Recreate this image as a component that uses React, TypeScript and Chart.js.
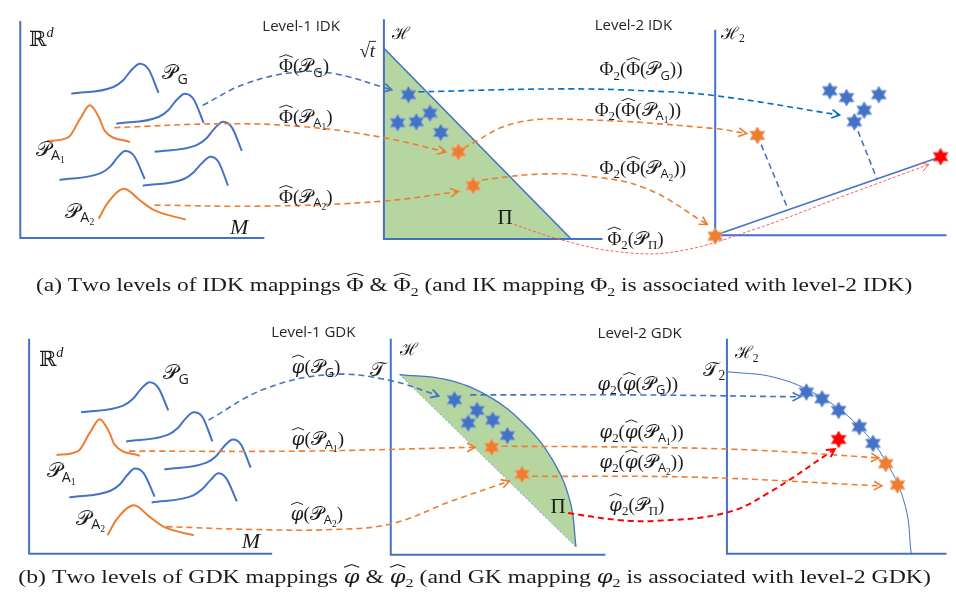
import { useEffect, useRef } from 'react';
import { Chart, registerables } from 'chart.js';
Chart.register(...registerables);

type P = [number, number];

// ---------------- panel (a): IDK ----------------
const rdAxisA: P[] = [[11, 12], [11, 236], [260, 236]];
const hAxisA: P[] = [[382, 10], [382, 237], [605, 237]];
const h2AxisA: P[] = [[720, 21], [720, 233], [956, 233]];
const simplexEdgeA: P[] = [[382, 40], [573, 237]];
const simplexBaseA = 237;
const projLineA: P[] = [[720, 233], [950, 152]];

const pdfA_G: P[] = [[63, 87], [106, 80], [116, 73], [124, 63], [133, 56], [142, 62], [152, 86]];
const pdfA_2: P[] = [[109, 118], [152, 111], [162, 104], [170, 94], [179, 87], [188, 93], [198, 117]];
const pdfA_3: P[] = [[148, 147], [191, 140], [201, 133], [209, 123], [218, 116], [227, 122], [237, 146]];
const pdfA_4: P[] = [[51, 176], [93, 169], [103, 162], [110, 153], [118, 146], [127, 151], [138, 175]];
const pdfA_5: P[] = [[136, 182], [178, 175], [188, 168], [196, 159], [205, 152], [213, 157], [223, 182]];
const pdfA_A1: P[] = [[38, 136], [60, 132], [72, 113], [82, 99], [92, 113], [97, 125], [123, 137]];
const pdfA_A2: P[] = [[91, 216], [100, 200], [117, 185], [133, 197], [147, 207], [180, 217]];

const mapA_G1: P[] = [[197, 99], [240, 77], [290, 65], [330, 66], [390, 83]];
const mapA_A1a: P[] = [[107, 122], [218, 118], [300, 121], [380, 132], [445, 147]];
const mapA_A2a: P[] = [[148, 202], [260, 203], [380, 198], [458, 188]];
const mapA_G2: P[] = [[417, 85], [560, 82], [650, 84], [720, 89], [847, 109]];
const mapA_A1b: P[] = [[463, 143], [517, 117], [590, 114], [720, 123], [752, 128]];
const mapA_A2b: P[] = [[482, 176], [540, 170], [590, 172], [650, 185], [712, 222]];
const mapA_Pi: P[] = [[515, 222], [560, 237], [620, 250], [680, 250], [760, 227], [850, 193], [938, 160]];
const projA_1: P[] = [[862, 116], [885, 175]];
const projA_2: P[] = [[763, 130], [793, 203]];

const starsBlueA1: P[] = [[407, 88], [396, 117], [415, 116], [429, 107], [440, 127]];
const starsOrangeA1: P[] = [[458, 147], [473, 182]];
const starsBlueA2: P[] = [[837, 84], [854, 91], [887, 88], [872, 104], [862, 116]];
const starsOrangeA2: P[] = [[763, 130], [720, 234]];
const starRedA2: P[] = [[950, 152]];

// ---------------- panel (b): GDK ----------------
const rdAxisB: P[] = [[20, 340], [20, 562], [268, 562]];
const hAxisB: P[] = [[389, 340], [389, 563], [608, 563]];
const h2AxisB: P[] = [[732, 340], [732, 562], [956, 562]];
const lensArcB: P[] = [[398, 377], [445, 382], [488, 399], [525, 428], [554, 465], [572, 508], [578, 555]];
const lensChordB: P[] = [[398, 377], [488, 466], [578, 555]];
const sphereArcB: P[] = [[732, 374], [781, 380], [826, 399], [865, 429], [895, 468], [914, 513], [920, 562]];

const pdfB_G: P[] = [[73, 416], [116, 409], [126, 402], [134, 392], [143, 385], [152, 391], [162, 414]];
const pdfB_2: P[] = [[119, 446], [162, 439], [172, 432], [180, 422], [188, 416], [197, 421], [207, 446]];
const pdfB_3: P[] = [[158, 475], [201, 468], [211, 461], [219, 451], [228, 444], [236, 449], [246, 473]];
const pdfB_4: P[] = [[61, 504], [103, 497], [113, 490], [120, 481], [128, 474], [137, 479], [148, 503]];
const pdfB_5: P[] = [[145, 509], [187, 502], [197, 495], [205, 486], [213, 479], [221, 484], [232, 508]];
const pdfB_A1: P[] = [[48, 460], [70, 456], [82, 437], [92, 423], [102, 437], [107, 449], [133, 461]];
const pdfB_A2: P[] = [[100, 543], [109, 527], [127, 512], [143, 524], [157, 534], [188, 543]];

const mapB_G1: P[] = [[203, 424], [260, 392], [327, 377], [388, 383], [438, 399]];
const mapB_A1a: P[] = [[122, 456], [300, 456], [475, 452]];
const mapB_A2a: P[] = [[160, 534], [250, 537], [330, 537], [390, 531], [450, 508], [510, 487]];
const mapB_G2: P[] = [[470, 398], [640, 398], [807, 400]];
const mapB_A1b: P[] = [[502, 451], [640, 452], [760, 455], [887, 463]];
const mapB_A2b: P[] = [[533, 482], [700, 483], [890, 492]];
const mapB_Pi: P[] = [[570, 520], [620, 527], [660, 528], [730, 520], [773, 500], [842, 454]];

const starsBlueB1: P[] = [[454, 403], [477, 414], [468, 427], [493, 424], [508, 440]];
const starsOrangeB1: P[] = [[492, 452], [523, 480]];
const starsBlueB2: P[] = [[813, 395], [829, 402], [846, 414], [867, 431], [881, 448]];
const starsOrangeB2: P[] = [[894, 469], [906, 491]];
const starRedB2: P[] = [[846, 444]];

// ---------------- text ----------------
const mathLabels = [
  'ℝ^{\\i{d}}', '𝒫_{\\s{G}}', '𝒫_{\\s{A}_{1}}', '𝒫_{\\s{A}_{2}}', '\\i{M}',
  '\\h{Φ}(𝒫_{\\s{G}})', '\\h{Φ}(𝒫_{\\s{A}_{1}})', '\\h{Φ}(𝒫_{\\s{A}_{2}})',
  'ℋ', '√\\o{\\i{t}}', 'Π',
  'Φ_{2}(\\h{Φ}(𝒫_{\\s{G}}))', 'Φ_{2}(\\h{Φ}(𝒫_{\\s{A}_{1}}))', 'Φ_{2}(\\h{Φ}(𝒫_{\\s{A}_{2}}))',
  '\\h{Φ}_{2}(𝒫_{Π})', 'ℋ_{2}',
  'ℝ^{\\i{d}}', '𝒫_{\\s{G}}', '𝒫_{\\s{A}_{1}}', '𝒫_{\\s{A}_{2}}', '\\i{M}',
  '\\h{\\g{φ}}(𝒫_{\\s{G}})', '\\h{\\g{φ}}(𝒫_{\\s{A}_{1}})', '\\h{\\g{φ}}(𝒫_{\\s{A}_{2}})',
  'ℋ', '𝒯', 'Π',
  '\\g{φ}_{2}(\\h{\\g{φ}}(𝒫_{\\s{G}}))', '\\g{φ}_{2}(\\h{\\g{φ}}(𝒫_{\\s{A}_{1}}))', '\\g{φ}_{2}(\\h{\\g{φ}}(𝒫_{\\s{A}_{2}}))',
  '\\h{\\g{φ}}_{2}(𝒫_{Π})', '𝒯_{2}', 'ℋ_{2}',
];
const mathLabelX = [
  20, 156, 27, 57, 225,
  275, 275, 275,
  390, 357, 498,
  602, 597, 602,
  610, 726,
  30, 157, 38, 68, 237,
  288, 288, 287,
  398, 368, 552,
  600, 602, 602,
  612, 708, 740,
];
const mathLabelY = [
  38, 72, 151, 215, 232,
  65, 117, 200,
  30, 49, 222,
  68, 110, 170,
  243, 30,
  368, 382, 483, 532, 556,
  375, 450, 527,
  357, 378, 520,
  393, 442, 473,
  518, 378, 360,
];
const mathLabelSize = [
  21, 21, 21, 21, 22,
  19, 19, 19,
  17, 19, 21,
  19, 19, 19,
  19, 17,
  21, 21, 21, 21, 22,
  19, 19, 19,
  17, 20, 21,
  19, 19, 19,
  19, 20, 17,
];

const levelLabels = ['Level-1 IDK', 'Level-2 IDK', 'Level-1 GDK', 'Level-2 GDK'];
const levelX = [258, 597, 267, 600];
const levelY = [22, 21, 338, 339];

const captions = [
  '(a) Two levels of IDK mappings \\h{Φ} & \\h{Φ}_{2} (and IK mapping Φ_{2} is associated with level-2 IDK)',
  '(b) Two levels of GDK mappings \\h{\\g{φ}} & \\h{\\g{φ}}_{2} (and GK mapping \\g{φ}_{2} is associated with level-2 GDK)',
];
const captionLeft = [27, 9];
const captionRight = [921, 940];
const captionBaseline = [291, 592];

// ---------------- styles ----------------
const BLUE = '#4472C4';
const BLUE2 = '#0070C0';
const ORANGE = '#ED7D31';
const RED = '#FF0000';
const GREEN = 'rgb(181,214,160)';
const INK = '#1b1b1b';
const SERIF = '"Liberation Serif","DejaVu Serif",serif';
const GREEKF = '"DejaVu Serif",serif';
const SANS = '"Open Sans","DejaVu Sans",sans-serif';
const CAPTION_SIZE = 19.5;

function grp(s: string, i: number): [string, number] {
  if (s[i] === '{') {
    let d = 0;
    for (let j = i; j < s.length; j++) {
      if (s[j] === '{') d++;
      else if (s[j] === '}') { d--; if (d === 0) return [s.slice(i + 1, j), j + 1]; }
    }
    return [s.slice(i + 1), s.length];
  }
  const cp = String.fromCodePoint(s.codePointAt(i) as number);
  return [cp, i + cp.length];
}

function rich(ctx: CanvasRenderingContext2D, s: string, x: number, y: number, size: number, fam: string, ital: boolean, draw: boolean): number {
  let cx = x;
  let i = 0;
  while (i < s.length) {
    const c = s[i];
    if (c === '\\') {
      const cmd = s[i + 1];
      const [inner, nx] = grp(s, i + 2);
      i = nx;
      if (cmd === 'h') {
        const w = rich(ctx, inner, cx, y, size, fam, ital, draw);
        if (draw) {
          const top = y - size * 0.93;
          ctx.save();
          ctx.strokeStyle = INK;
          ctx.lineWidth = Math.max(0.8, size * 0.05);
          ctx.beginPath();
          ctx.moveTo(cx + w * 0.02, top + size * 0.13);
          ctx.lineTo(cx + w * 0.5, top);
          ctx.lineTo(cx + w * 0.98, top + size * 0.13);
          ctx.stroke();
          ctx.restore();
        }
        cx += w;
      } else if (cmd === 's') {
        cx += rich(ctx, inner, cx, y, size, SANS, false, draw);
      } else if (cmd === 'g') {
        cx += rich(ctx, inner, cx, y, size * 0.95, GREEKF, true, draw);
      } else if (cmd === 'i') {
        cx += rich(ctx, inner, cx, y, size, fam, true, draw);
      } else if (cmd === 'o') {
        const w = rich(ctx, inner, cx, y, size, fam, ital, draw);
        if (draw) {
          ctx.save();
          ctx.strokeStyle = INK;
          ctx.lineWidth = Math.max(0.8, size * 0.05);
          ctx.beginPath();
          ctx.moveTo(cx - 1, y - size * 0.82);
          ctx.lineTo(cx + w + 1, y - size * 0.82);
          ctx.stroke();
          ctx.restore();
        }
        cx += w;
      }
      continue;
    }
    if (c === '_' || c === '^') {
      const [inner, nx] = grp(s, i + 1);
      i = nx;
      const sz = Math.max(9.5, size * 0.68);
      const dy = c === '_' ? size * 0.22 : -size * 0.42;
      cx += rich(ctx, inner, cx, y + dy, sz, fam, ital, draw);
      continue;
    }
    const ch = String.fromCodePoint(s.codePointAt(i) as number);
    i += ch.length;
    ctx.font = `${ital ? 'italic ' : ''}${size}px ${fam}`;
    if (draw) ctx.fillText(ch, cx, y);
    cx += ctx.measureText(ch).width;
  }
  return cx - x;
}

function makeStar(fill: string, edge: string, r: number): HTMLCanvasElement {
  const c = document.createElement('canvas');
  const n = Math.ceil(r * 2 + 4);
  c.width = n;
  c.height = n;
  const g = c.getContext('2d') as CanvasRenderingContext2D;
  const cx = n / 2, cy = n / 2;
  g.beginPath();
  for (let k = 0; k < 12; k++) {
    const rr = k % 2 === 0 ? r : r / Math.sqrt(3);
    const a = (-90 + k * 30) * Math.PI / 180;
    const px = cx + rr * Math.cos(a), py = cy + rr * Math.sin(a);
    if (k === 0) g.moveTo(px, py); else g.lineTo(px, py);
  }
  g.closePath();
  g.fillStyle = fill;
  g.fill();
  g.strokeStyle = edge;
  g.lineWidth = 1;
  g.stroke();
  return c;
}

const arrowPlugin = {
  id: 'arrowHeads',
  afterDatasetsDraw(chart: any) {
    const ctx = chart.ctx as CanvasRenderingContext2D;
    chart.data.datasets.forEach((ds: any, i: number) => {
      if (!ds.arrow) return;
      const pts = chart.getDatasetMeta(i).data as any[];
      const n = pts.length;
      const end = pts[n - 1];
      let fx = end.cp1x, fy = end.cp1y;
      if (fx === undefined || (Math.abs(fx - end.x) < 0.5 && Math.abs(fy - end.y) < 0.5)) {
        fx = pts[n - 2].x; fy = pts[n - 2].y;
      }
      const ang = Math.atan2(end.y - fy, end.x - fx);
      const L = 9, a = 0.5;
      ctx.save();
      ctx.strokeStyle = ds.borderColor;
      ctx.lineWidth = ds.borderWidth;
      ctx.setLineDash([]);
      ctx.beginPath();
      ctx.moveTo(end.x - L * Math.cos(ang - a), end.y - L * Math.sin(ang - a));
      ctx.lineTo(end.x, end.y);
      ctx.lineTo(end.x - L * Math.cos(ang + a), end.y - L * Math.sin(ang + a));
      ctx.stroke();
      ctx.restore();
    });
  },
};

const textPlugin = {
  id: 'diagramText',
  beforeDraw(chart: any) {
    const ctx = chart.ctx as CanvasRenderingContext2D;
    ctx.save();
    ctx.fillStyle = '#ffffff';
    ctx.fillRect(0, 0, chart.width, chart.height);
    ctx.restore();
  },
  afterDraw(chart: any) {
    const ctx = chart.ctx as CanvasRenderingContext2D;
    const sx = chart.scales.x, sy = chart.scales.y;
    ctx.save();
    ctx.fillStyle = INK;
    ctx.textBaseline = 'alphabetic';
    ctx.textAlign = 'left';
    mathLabels.forEach((t, k) => {
      rich(ctx, t, sx.getPixelForValue(mathLabelX[k]), sy.getPixelForValue(mathLabelY[k]), mathLabelSize[k], SERIF, false, true);
    });
    ctx.fillStyle = '#262626';
    ctx.font = `15px ${SANS}`;
    levelLabels.forEach((t, k) => {
      ctx.fillText(t, sx.getPixelForValue(levelX[k]), sy.getPixelForValue(levelY[k]));
    });
    ctx.fillStyle = INK;
    captions.forEach((t, k) => {
      const x0 = sx.getPixelForValue(captionLeft[k]);
      const x1 = sx.getPixelForValue(captionRight[k]);
      const w0 = rich(ctx, t, 0, 0, CAPTION_SIZE, SERIF, false, false);
      const xs = (x1 - x0) / w0;
      ctx.save();
      ctx.translate(x0, sy.getPixelForValue(captionBaseline[k]));
      ctx.scale(xs, 1);
      rich(ctx, t, 0, 0, CAPTION_SIZE, SERIF, false, true);
      ctx.restore();
    });
    ctx.restore();
  },
};

export default function App() {
  const ref = useRef<HTMLCanvasElement | null>(null);
  useEffect(() => {
    if (!ref.current) return;
    const starBlue = makeStar(BLUE, '#7D9FDB', 8.5);
    const starOrange = makeStar(ORANGE, '#F5A46E', 8.5);
    const starRed = makeStar(RED, '#FF5555', 8.5);

    const datasets: any[] = [];
    const add = (pts: P[], o: any) => {
      datasets.push({
        data: pts.map(([x, y]) => ({ x, y })),
        showLine: true,
        pointRadius: 0,
        pointHoverRadius: 0,
        borderWidth: 1.5,
        borderColor: BLUE,
        backgroundColor: 'transparent',
        fill: false,
        tension: 0,
        clip: false,
        order: 1,
        ...o,
      });
      return datasets.length - 1;
    };
    const curve = (pts: P[], color: string) => add(pts, { borderColor: color, borderWidth: 2, cubicInterpolationMode: 'monotone', order: 2 });
    const dashed = (pts: P[], color: string, arrow: boolean, extra: any = {}) =>
      add(pts, { borderColor: color, borderWidth: 1.6, borderDash: [6, 4], tension: 0.4, arrow, order: 1, ...extra });
    const stars = (pts: P[], img: HTMLCanvasElement) =>
      add(pts, { showLine: false, pointStyle: img, pointRadius: 8, order: -1 });

    // fills
    add(simplexEdgeA, { fill: { value: simplexBaseA }, backgroundColor: GREEN, borderColor: BLUE, borderWidth: 1.6, order: 10 });
    const chordIdx = add(lensChordB, { borderColor: '#7E9CC4', borderWidth: 1, borderDash: [2, 2], order: 9 });
    add(lensArcB, { fill: chordIdx, backgroundColor: GREEN, borderColor: BLUE, borderWidth: 1.3, tension: 0.4, order: 10 });

    // axes
    [rdAxisA, hAxisA, h2AxisA, rdAxisB, hAxisB, h2AxisB].forEach((a) => add(a, { borderWidth: 2, order: 3 }));
    add(projLineA, { borderWidth: 1.6, order: 3 });
    add(sphereArcB, { borderWidth: 1, tension: 0.4, order: 3 });

    // distributions
    [pdfA_G, pdfA_2, pdfA_3, pdfA_4, pdfA_5, pdfB_G, pdfB_2, pdfB_3, pdfB_4, pdfB_5].forEach((c) => curve(c, BLUE));
    [pdfA_A1, pdfA_A2, pdfB_A1, pdfB_A2].forEach((c) => curve(c, ORANGE));

    // mappings
    dashed(mapA_G1, BLUE, true);
    dashed(mapA_A1a, ORANGE, true);
    dashed(mapA_A2a, ORANGE, true);
    dashed(mapA_G2, BLUE2, true);
    dashed(mapA_A1b, ORANGE, true);
    dashed(mapA_A2b, ORANGE, true);
    dashed(mapA_Pi, '#FF5A5A', true, { borderWidth: 1, borderDash: [3, 2] });
    dashed(projA_1, BLUE, false);
    dashed(projA_2, BLUE, false);
    dashed(mapB_G1, BLUE, true);
    dashed(mapB_A1a, ORANGE, true);
    dashed(mapB_A2a, ORANGE, true);
    dashed(mapB_G2, BLUE, true);
    dashed(mapB_A1b, ORANGE, true);
    dashed(mapB_A2b, ORANGE, true);
    dashed(mapB_Pi, RED, true, { borderWidth: 2 });

    // embedded points
    stars(starsBlueA1, starBlue);
    stars(starsOrangeA1, starOrange);
    stars(starsBlueA2, starBlue);
    stars(starsOrangeA2, starOrange);
    stars(starRedA2, starRed);
    stars(starsBlueB1, starBlue);
    stars(starsOrangeB1, starOrange);
    stars(starsBlueB2, starBlue);
    stars(starsOrangeB2, starOrange);
    stars(starRedB2, starRed);

    const chart = new Chart(ref.current, {
      type: 'scatter',
      data: { datasets },
      options: {
        animation: false,
        responsive: false,
        events: [],
        layout: { padding: 0 },
        scales: {
          x: { type: 'linear', min: 0, max: 956, display: false },
          y: { type: 'linear', min: 0, max: 601, reverse: true, display: false },
        },
        plugins: { legend: { display: false }, tooltip: { enabled: false } },
      },
      plugins: [arrowPlugin, textPlugin],
    } as any);
    return () => chart.destroy();
  }, []);
  return (
    <div style={{ position: 'fixed', left: 0, top: 0, width: 956, height: 601, background: '#fff' }}>
      <canvas ref={ref} width={956} height={601} style={{ display: 'block', width: 956, height: 601 }} />
    </div>
  );
}
